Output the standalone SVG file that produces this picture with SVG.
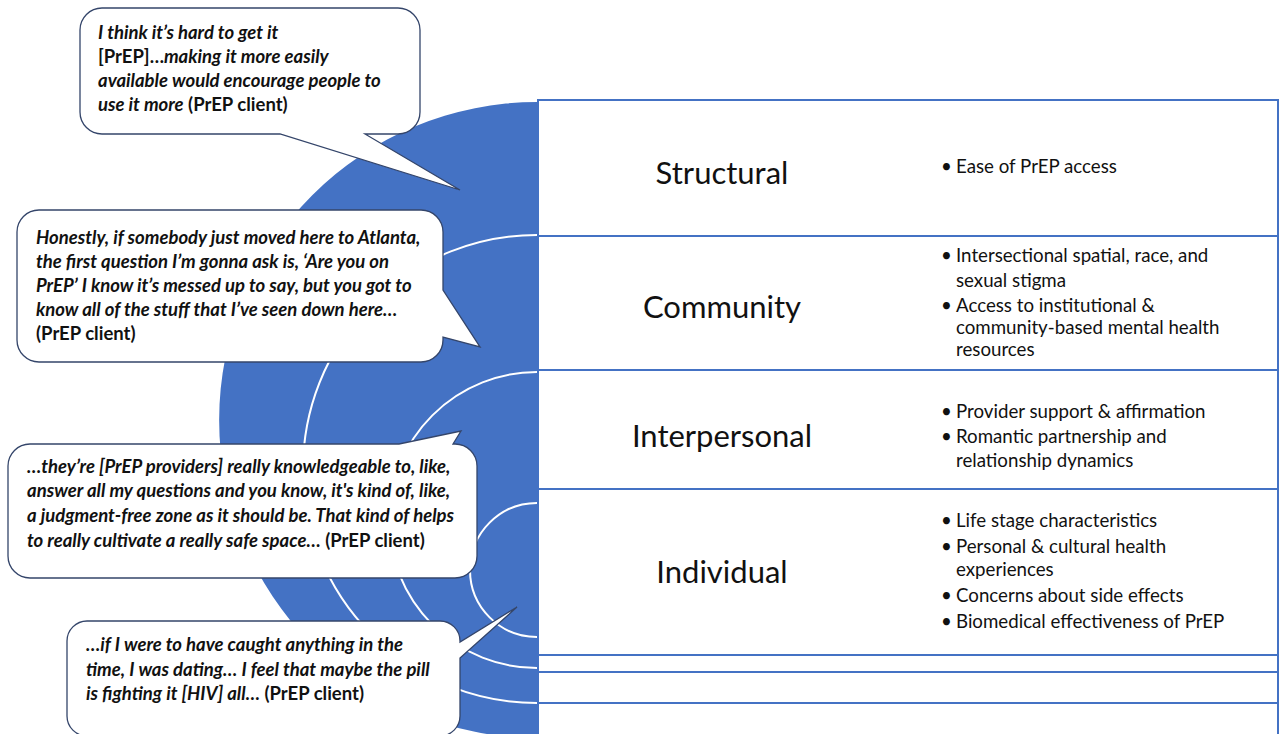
<svg xmlns="http://www.w3.org/2000/svg" width="1280" height="734" viewBox="0 0 1280 734">
<style>
.q{font-family:Lato,"Liberation Sans",sans-serif;font-size:18.5px;font-weight:bold;font-style:italic;fill:#111}
.u{font-style:normal}
.lab{font-family:Lato,"Liberation Sans",sans-serif;font-size:31px;fill:#111;text-anchor:middle}
.b{font-family:Lato,"Liberation Sans",sans-serif;font-size:18.7px;fill:#111}
.bub{fill:#fff;stroke:#34456a;stroke-width:1.3}
.arc{fill:none;stroke:#fff;stroke-width:2}
.tb{fill:#fff;stroke:#4472c4;stroke-width:2}
.tl{stroke:#4472c4;stroke-width:2}
</style>
<rect width="1280" height="734" fill="#fff"/>
<g id="target">
<path d="M537,102 A318,318 0 0 0 537,738 Z" fill="#4472c4"/>
<path class="arc" d="M537,235 A234,234 0 0 0 537,703"/>
<path class="arc" d="M537,372 A148,148 0 0 0 537,668"/>
<path class="arc" d="M537,503 A67,67 0 0 0 537,637"/>
</g>
<g id="table">
<rect class="tb" x="538" y="100" width="740" height="650"/>
<line class="tl" x1="538" y1="236" x2="1278" y2="236"/>
<line class="tl" x1="538" y1="370" x2="1278" y2="370"/>
<line class="tl" x1="538" y1="489" x2="1278" y2="489"/>
<line class="tl" x1="538" y1="655" x2="1278" y2="655"/>
<line class="tl" x1="538" y1="672" x2="1278" y2="672"/>
<line class="tl" x1="538" y1="703" x2="1278" y2="703"/>
</g>
<g id="row-structural">
<text class="lab" x="722" y="184">Structural</text>
<text class="b" x="941" y="173">•</text><text class="b" x="956" y="173">Ease of PrEP access</text>
</g>
<g id="row-community">
<text class="lab" x="722" y="318">Community</text>
<text class="b" x="941" y="262">•</text><text class="b" x="956" y="262">Intersectional spatial, race, and</text>
<text class="b" x="956" y="287">sexual stigma</text>
<text class="b" x="941" y="312">•</text><text class="b" x="956" y="312">Access to institutional &amp;</text>
<text class="b" x="956" y="334">community-based mental health</text>
<text class="b" x="956" y="356">resources</text>
</g>
<g id="row-interpersonal">
<text class="lab" x="722" y="447">Interpersonal</text>
<text class="b" x="941" y="418">•</text><text class="b" x="956" y="418">Provider support &amp; affirmation</text>
<text class="b" x="941" y="443">•</text><text class="b" x="956" y="443">Romantic partnership and</text>
<text class="b" x="956" y="467">relationship dynamics</text>
</g>
<g id="row-individual">
<text class="lab" x="722" y="583">Individual</text>
<text class="b" x="941" y="527">•</text><text class="b" x="956" y="527">Life stage characteristics</text>
<text class="b" x="941" y="553">•</text><text class="b" x="956" y="553">Personal &amp; cultural health</text>
<text class="b" x="956" y="576">experiences</text>
<text class="b" x="941" y="602">•</text><text class="b" x="956" y="602">Concerns about side effects</text>
<text class="b" x="941" y="628">•</text><text class="b" x="956" y="628">Biomedical effectiveness of PrEP</text>
</g>
<g id="callout-1">
<path class="bub" d="M102,8 H398 A22,22 0 0 1 420,30 V112 A22,22 0 0 1 398,134 H365 L460,190 L280,134 H102 A22,22 0 0 1 80,112 V30 A22,22 0 0 1 102,8 Z"/>
<text class="q" x="98" y="39">I think it’s hard to get it</text>
<text class="q" x="98" y="63"><tspan class="u">[PrEP]…</tspan>making it more easily</text>
<text class="q" x="98" y="87">available would encourage people to</text>
<text class="q" x="98" y="111">use it more<tspan class="u"> (PrEP client)</tspan></text>
</g>
<g id="callout-2">
<path class="bub" d="M39,210 H421 A22,22 0 0 1 443,232 V290 L480,347 L443,337 V340 A22,22 0 0 1 421,362 H39 A22,22 0 0 1 17,340 V232 A22,22 0 0 1 39,210 Z"/>
<text class="q" x="36" y="244">Honestly, if somebody just moved here to Atlanta,</text>
<text class="q" x="36" y="268">the first question I’m gonna ask is, ‘Are you on</text>
<text class="q" x="36" y="292">PrEP’ I know it’s messed up to say, but you got to</text>
<text class="q" x="36" y="316">know all of the stuff that I’ve seen down here…</text>
<text class="q u" x="36" y="340">(PrEP client)</text>
</g>
<g id="callout-3">
<path class="bub" d="M30,444 H399 L461,431 L453,444 H455 A22,22 0 0 1 477,466 V556 A22,22 0 0 1 455,578 H30 A22,22 0 0 1 8,556 V466 A22,22 0 0 1 30,444 Z"/>
<text class="q" x="27" y="473">…they’re [PrEP providers] really knowledgeable to, like,</text>
<text class="q" x="27" y="497">answer all my questions and you know, it's kind of, like,</text>
<text class="q" x="27" y="522">a judgment-free zone as it should be. That kind of helps</text>
<text class="q" x="27" y="547">to really cultivate a really safe space…<tspan class="u"> (PrEP client)</tspan></text>
</g>
<g id="callout-4">
<path class="bub" d="M89,621 H440 A20,20 0 0 1 460,641 V642 L517,607 L460,658 V716 A20,20 0 0 1 440,736 H87 A20,20 0 0 1 67,716 V641 A20,20 0 0 1 87,621 Z"/>
<text class="q" x="86" y="651">…if I were to have caught anything in the</text>
<text class="q" x="86" y="676">time, I was dating… I feel that maybe the pill</text>
<text class="q" x="86" y="700">is fighting it [HIV] all…<tspan class="u"> (PrEP client)</tspan></text>
</g>
</svg>
